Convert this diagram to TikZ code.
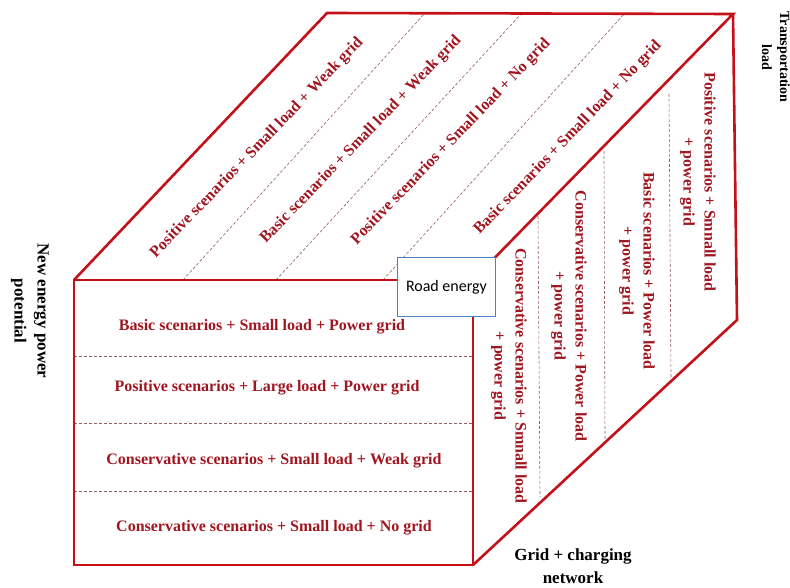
\documentclass[tikz,border=0pt]{standalone}
\usepackage{fontspec}
\setmainfont{Liberation Serif}
\newfontfamily\roadfont{Carlito}
\usetikzlibrary{positioning}
\definecolor{cubered}{RGB}{196,16,24}
\definecolor{scenred}{RGB}{160,22,32}
\definecolor{roadblue}{RGB}{79,129,189}
\tikzset{
edge line/.style={
draw=cubered,
line width=2.6pt},
split line/.style={
draw=gray!70!cubered,
line width=0.6pt,
dash pattern=on 3pt off 2pt},
scen/.style={
text=scenred,
font=\fontsize{16}{21}\selectfont\bfseries,
align=center,
inner sep=0pt},
axis label/.style={
font=\fontsize{17}{23}\selectfont\bfseries,
align=center,
inner sep=0pt},
road/.style={
draw=roadblue,
line width=1.3pt,
fill=white,
font=\roadfont\fontsize{16}{19}\selectfont,
minimum width=98pt,
minimum height=59pt,
inner sep=0pt}}

\begin{document}
\begin{tikzpicture}[x=1pt,y=-1pt]
\useasboundingbox (0,0) rectangle (790,588);
% corners of the cube
\coordinate (fl) at (74,280);
\coordinate (fr) at (473,280);
\coordinate (br) at (473,565);
\coordinate (bl) at (74,565);
\coordinate (tl) at (327,13);
\coordinate (tr) at (733,14);
\coordinate (rb) at (737,320);
% dashed splits
\foreach \y in {356,423,491}
  \draw[split line] (74,\y) -- (473,\y);
\foreach \a/\b in {183/425,276/522,383/625}
  \draw[split line] (\a,280) -- (\b,13);
\draw[split line] (538,216) -- (540,497);
\draw[split line] (604,151) -- (605,440);
\draw[split line] (669,94) -- (671,378);
% faces
\draw[edge line] (fl) -- (fr) -- (br) -- (bl) -- cycle;
\draw[edge line] (fl) -- (tl) -- (tr) -- (fr);
\draw[edge line] (tr) -- (rb) -- (br);
% front face
\node[scen] (f1) at (262,327) {Basic scenarios + Small load + Power grid};
\node[scen] (f2) at (267,388) {Positive scenarios + Large load + Power grid};
\node[scen] (f3) at (274,461) {Conservative scenarios + Small load + Weak grid};
\node[scen] (f4) at (274,528) {Conservative scenarios + Small load + No grid};
% top face
\node[scen, rotate=46] (t1) at (257,148) {Positive scenarios + Small load + Weak grid};
\node[scen, rotate=46] (t2) at (361,140) {Basic scenarios + Small load + Weak grid};
\node[scen, rotate=46] (t3) at (451,142) {Positive scenarios + Small load + No grid};
\node[scen, rotate=46] (t4) at (568,138) {Basic scenarios + Small load + No grid};
% right face
\node[scen, rotate=-90] (r1) at (509,376) {Conservative scenarios + Smnall load\\+ power grid};
\node[scen, rotate=-90] (r2) at (569,316) {Conservative scenarios + Power load\\+ power grid};
\node[scen, rotate=-90] (r3) at (637,271) {Basic scenarios + Power load\\+ power grid};
\node[scen, rotate=-90] (r4) at (698,182) {Positive scenarios + Smnall load\\+ power grid};
% axes
\node[road] (road) at (446.5,287) {Road energy};
\node[axis label, rotate=-90] (newenergy) at (30,311) {New energy power\\potential};
\node[axis label, rotate=-90, font=\fontsize{14}{18}\selectfont\bfseries] (transport) at (776,57) {Transportation\\load};
\node[axis label] (gridnet) at (573,566) {Grid + charging\\network};
\end{tikzpicture}
\end{document}
